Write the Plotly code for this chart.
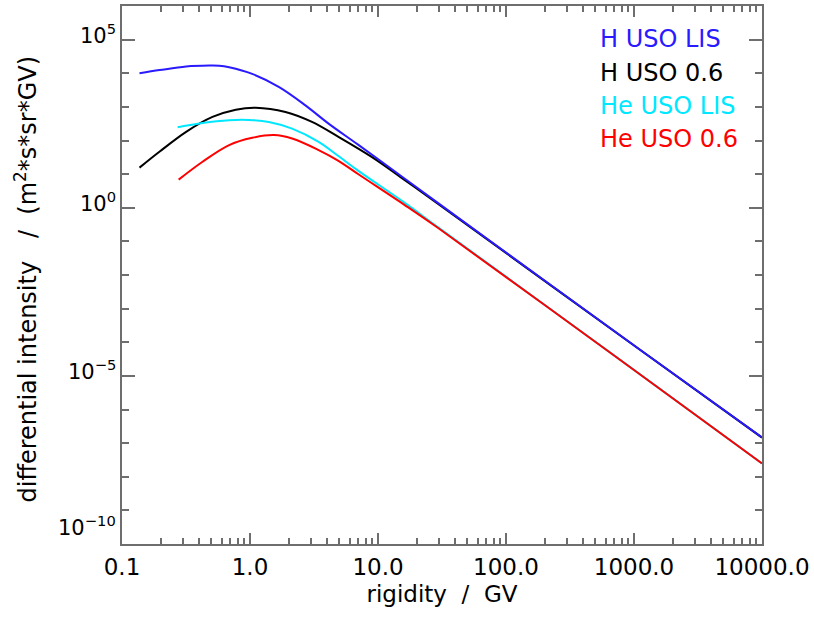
import math
import plotly.graph_objects as go

# ---- data ----
rig_h_lis = [0.137, 0.197, 0.317, 0.48, 0.575, 0.687, 1.04, 1.69, 2.71, 4.11, 7.03, 16.2, 29.5, 1053, 10000]
int_h_lis = [1.0e4, 1.24e4, 1.59e4, 1.70e4, 1.68e4, 1.51e4, 9.59e3, 3.88e3, 1.11e3, 318, 74, 7.3, 1.37, 7.0e-5, 1.47e-7]

rig_h_06 = [0.137, 0.196, 0.317, 0.509, 0.774, 1.107, 1.894, 3.05, 4.91, 8.92, 16.2, 29.5, 1053, 10000]
int_h_06 = [15.6, 46.3, 181, 502, 826, 946, 706, 357, 128, 32.4, 6.6, 1.3, 6.95e-5, 1.46e-7]

rig_he_lis = [0.272, 0.426, 0.687, 0.982, 1.405, 2.132, 3.436, 4.91, 7.03, 16.2, 29.5, 781, 10000]
int_he_lis = [249, 334, 402, 409, 357, 226, 91.6, 34.5, 12.5, 1.40, 0.262, 3.0e-5, 2.5e-8]

rig_he_06 = [0.277, 0.426, 0.687, 1.042, 1.537, 2.132, 3.436, 4.91, 7.03, 16.2, 29.5, 781, 10000]
int_he_06 = [6.87, 23.4, 73.1, 120, 144.5, 114.6, 52.0, 24.9, 9.9, 1.2, 0.249, 2.97e-5, 2.49e-8]

series_names = ["H USO LIS", "H USO 0.6", "He USO LIS", "He USO 0.6"]
series_colors = ["#2a1aff", "#000000", "#00e8ff", "#ff0000"]

x_tickvals = [0.1, 1, 10, 100, 1000, 10000]
x_ticktext = ["0.1", "1.0", "10.0", "100.0", "1000.0", "10000.0"]
x_minor = [m * 10 ** e for e in range(-1, 4) for m in range(2, 10)]

y_tickvals = [1e-10, 1e-5, 1, 1e5]
y_ticktext = ["10<sup>\u221210</sup>", "10<sup>\u22125</sup>", "10<sup>0</sup>", "10<sup>5</sup>"]
y_minor = [10.0 ** e for e in range(-9, 6) if e % 5 != 0]

FONT = "DejaVu Sans"
AX = "#6e6e6e"

fig = go.Figure()
data = [
    (rig_h_06, int_h_06, 1),
    (rig_h_lis, int_h_lis, 0),
    (rig_he_lis, int_he_lis, 2),
    (rig_he_06, int_he_06, 3),
]
for xs, ys, i in data:
    fig.add_trace(go.Scatter(x=xs, y=ys, mode="lines", name=series_names[i],
                             line=dict(color=series_colors[i], width=2, shape="spline", smoothing=1.0),
                             showlegend=False, hoverinfo="skip"))

# legend as coloured text
for i, name in enumerate(series_names):
    fig.add_annotation(text=name, xref="paper", yref="paper", x=0.744, y=(544.3 - (37 + 33.4 * i)) / 540.8,
                       xanchor="left", yanchor="middle", showarrow=False,
                       font=dict(family=FONT, size=24, color=series_colors[i]))

# y tick labels (lowest one sits a little above its tick, as in the reference)
for v, t in zip(y_tickvals, y_ticktext):
    fig.add_annotation(text=t, xref="paper", yref="y", x=0, y=math.log10(v),
                       xanchor="right", yanchor="middle", showarrow=False,
                       xshift=-4, yshift=(18 if v == y_tickvals[0] else 6),
                       font=dict(family=FONT, size=21, color="#000"))

fig.add_annotation(text="differential intensity\u00a0\u00a0\u00a0/\u00a0\u00a0(m<sup>2</sup>*s*sr*GV)",
                   xref="paper", yref="paper", x=(26 - 122.3) / 643.4, y=0.492, textangle=-90,
                   xanchor="center", yanchor="middle", showarrow=False,
                   font=dict(family=FONT, size=24, color="#000"))

fig.update_layout(
    width=814, height=619,
    margin=dict(l=122, r=48, t=4, b=75),
    paper_bgcolor="white", plot_bgcolor="white",
    font=dict(family=FONT, size=22, color="#000"),
    xaxis=dict(type="log", range=[-1, 4], tickmode="array", tickvals=x_tickvals, ticktext=x_ticktext,
               ticks="inside", ticklen=11, tickwidth=1.5, tickcolor=AX, ticklabelstandoff=1,
               showline=True, linecolor=AX, linewidth=2, mirror="ticks", showgrid=False, zeroline=False,
               minor=dict(tickmode="array", tickvals=x_minor, ticks="inside", ticklen=6, tickwidth=1.5,
                          tickcolor=AX, showgrid=False),
               title=dict(text="rigidity\u00a0\u00a0/\u00a0\u00a0GV", font=dict(family=FONT, size=23), standoff=7),
               tickfont=dict(family=FONT, size=23, color="#000")),
    yaxis=dict(type="log", range=[-10, 6], tickmode="array", tickvals=y_tickvals, showticklabels=False,
               ticks="inside", ticklen=13, tickwidth=1.5, tickcolor=AX,
               showline=True, linecolor=AX, linewidth=2, mirror="ticks", showgrid=False, zeroline=False,
               minor=dict(tickmode="array", tickvals=y_minor, ticks="inside", ticklen=7, tickwidth=1.5,
                          tickcolor=AX, showgrid=False)),
)

fig.write_html("out.html", config={"displayModeBar": False},
               post_script="document.body.style.margin='0px';")
